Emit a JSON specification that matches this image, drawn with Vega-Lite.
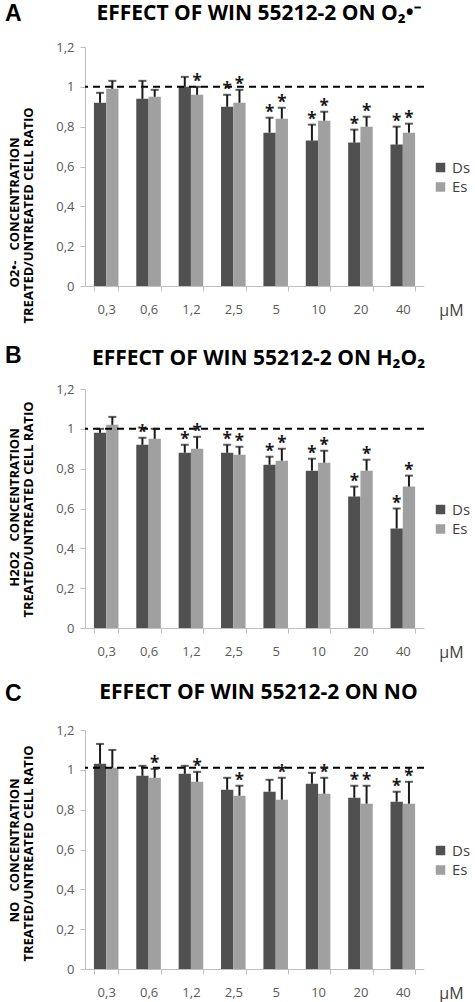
{
  "$schema": "https://vega.github.io/schema/vega-lite/v6.json",
  "background": "white",
  "padding": {"left": 4, "top": 3, "right": 0, "bottom": 3},
  "spacing": 22,
  "config": {
    "view": {"stroke": null},
    "axis": {"grid": false, "labelFont": "Open Sans", "labelFontSize": 13, "labelColor": "#595959", "domainColor": "#bfbfbf", "tickColor": "#bfbfbf", "tickSize": 5, "labelOverlap": false, "titleFont": "Open Sans", "titleFontSize": 13, "titleFontWeight": "bold", "titleColor": "#000000", "titleLimit": 400},
    "title": {"font": "Open Sans", "fontWeight": "bold", "color": "#000000"},
    "legend": {"labelFont": "Open Sans", "labelFontSize": 15, "labelColor": "#404040", "symbolType": "square", "symbolSize": 90, "symbolStrokeWidth": 0, "rowPadding": 3.5}
  },
  "resolve": {"legend": {"color": "independent"}},
  "datasets": {
    "bars": [
      {"panel": "A", "conc": "0,3", "series": "Ds", "value": 0.92, "upper": 0.97, "sig": ""},
      {"panel": "A", "conc": "0,3", "series": "Es", "value": 0.99, "upper": 1.03, "sig": ""},
      {"panel": "A", "conc": "0,6", "series": "Ds", "value": 0.94, "upper": 1.03, "sig": ""},
      {"panel": "A", "conc": "0,6", "series": "Es", "value": 0.95, "upper": 0.985, "sig": ""},
      {"panel": "A", "conc": "1,2", "series": "Ds", "value": 1.0, "upper": 1.05, "sig": ""},
      {"panel": "A", "conc": "1,2", "series": "Es", "value": 0.96, "upper": 1.0, "sig": "*"},
      {"panel": "A", "conc": "2,5", "series": "Ds", "value": 0.9, "upper": 0.96, "sig": "*"},
      {"panel": "A", "conc": "2,5", "series": "Es", "value": 0.92, "upper": 0.985, "sig": "*"},
      {"panel": "A", "conc": "5", "series": "Ds", "value": 0.77, "upper": 0.845, "sig": "*"},
      {"panel": "A", "conc": "5", "series": "Es", "value": 0.84, "upper": 0.895, "sig": "*"},
      {"panel": "A", "conc": "10", "series": "Ds", "value": 0.73, "upper": 0.81, "sig": "*"},
      {"panel": "A", "conc": "10", "series": "Es", "value": 0.83, "upper": 0.875, "sig": "*"},
      {"panel": "A", "conc": "20", "series": "Ds", "value": 0.72, "upper": 0.785, "sig": "*"},
      {"panel": "A", "conc": "20", "series": "Es", "value": 0.8, "upper": 0.85, "sig": "*"},
      {"panel": "A", "conc": "40", "series": "Ds", "value": 0.71, "upper": 0.8, "sig": "*"},
      {"panel": "A", "conc": "40", "series": "Es", "value": 0.77, "upper": 0.815, "sig": "*"},
      {"panel": "B", "conc": "0,3", "series": "Ds", "value": 0.98, "upper": 1.0, "sig": ""},
      {"panel": "B", "conc": "0,3", "series": "Es", "value": 1.02, "upper": 1.06, "sig": ""},
      {"panel": "B", "conc": "0,6", "series": "Ds", "value": 0.92, "upper": 0.955, "sig": "*"},
      {"panel": "B", "conc": "0,6", "series": "Es", "value": 0.95, "upper": 1.0, "sig": ""},
      {"panel": "B", "conc": "1,2", "series": "Ds", "value": 0.88, "upper": 0.92, "sig": "*"},
      {"panel": "B", "conc": "1,2", "series": "Es", "value": 0.9, "upper": 0.96, "sig": "*"},
      {"panel": "B", "conc": "2,5", "series": "Ds", "value": 0.88, "upper": 0.92, "sig": "*"},
      {"panel": "B", "conc": "2,5", "series": "Es", "value": 0.87, "upper": 0.91, "sig": "*"},
      {"panel": "B", "conc": "5", "series": "Ds", "value": 0.82, "upper": 0.86, "sig": "*"},
      {"panel": "B", "conc": "5", "series": "Es", "value": 0.84, "upper": 0.9, "sig": "*"},
      {"panel": "B", "conc": "10", "series": "Ds", "value": 0.79, "upper": 0.85, "sig": "*"},
      {"panel": "B", "conc": "10", "series": "Es", "value": 0.83, "upper": 0.89, "sig": "*"},
      {"panel": "B", "conc": "20", "series": "Ds", "value": 0.66, "upper": 0.71, "sig": "*"},
      {"panel": "B", "conc": "20", "series": "Es", "value": 0.79, "upper": 0.845, "sig": "*"},
      {"panel": "B", "conc": "40", "series": "Ds", "value": 0.5, "upper": 0.6, "sig": "*"},
      {"panel": "B", "conc": "40", "series": "Es", "value": 0.71, "upper": 0.765, "sig": "*"},
      {"panel": "C", "conc": "0,3", "series": "Ds", "value": 1.03, "upper": 1.13, "sig": ""},
      {"panel": "C", "conc": "0,3", "series": "Es", "value": 1.01, "upper": 1.1, "sig": ""},
      {"panel": "C", "conc": "0,6", "series": "Ds", "value": 0.97, "upper": 1.02, "sig": ""},
      {"panel": "C", "conc": "0,6", "series": "Es", "value": 0.96, "upper": 1.005, "sig": "*"},
      {"panel": "C", "conc": "1,2", "series": "Ds", "value": 0.98, "upper": 1.02, "sig": ""},
      {"panel": "C", "conc": "1,2", "series": "Es", "value": 0.94, "upper": 0.99, "sig": "*"},
      {"panel": "C", "conc": "2,5", "series": "Ds", "value": 0.9, "upper": 0.96, "sig": ""},
      {"panel": "C", "conc": "2,5", "series": "Es", "value": 0.87, "upper": 0.92, "sig": "*"},
      {"panel": "C", "conc": "5", "series": "Ds", "value": 0.89, "upper": 0.95, "sig": ""},
      {"panel": "C", "conc": "5", "series": "Es", "value": 0.85, "upper": 0.96, "sig": "*"},
      {"panel": "C", "conc": "10", "series": "Ds", "value": 0.93, "upper": 0.985, "sig": ""},
      {"panel": "C", "conc": "10", "series": "Es", "value": 0.88, "upper": 0.96, "sig": "*"},
      {"panel": "C", "conc": "20", "series": "Ds", "value": 0.86, "upper": 0.92, "sig": "*"},
      {"panel": "C", "conc": "20", "series": "Es", "value": 0.83, "upper": 0.92, "sig": "*"},
      {"panel": "C", "conc": "40", "series": "Ds", "value": 0.84, "upper": 0.89, "sig": "*"},
      {"panel": "C", "conc": "40", "series": "Es", "value": 0.83, "upper": 0.94, "sig": "*"}
    ]
  },
  "vconcat": [
    {
      "title": {"text": "A", "anchor": "start", "frame": "bounds", "font": "Liberation Sans", "fontSize": 23, "fontWeight": "bold", "offset": -23, "dx": -3},
      "vconcat": [
        {
          "width": 339, "height": 239,
          "title": {"text": "EFFECT OF WIN 55212-2 ON O₂•⁻", "fontSize": 21, "offset": 17, "frame": "group", "dx": 4},
          "data": {"name": "bars"},
          "transform": [{"filter": "datum.panel === 'A'"}],
          "resolve": {"axis": {"y": "independent"}},
          "encoding": {
            "x": {"field": "conc", "type": "nominal", "sort": ["0,3", "0,6", "1,2", "2,5", "5", "10", "20", "40"], "scale": {"paddingInner": 0.42, "paddingOuter": 0.21},
              "axis": {"labelAngle": 0, "tickBand": "extent", "labelPadding": 12, "title": "µM", "titleFontWeight": "normal", "titleFontSize": 16, "titleColor": "#404040", "titleX": 366, "titleY": 24, "titleBaseline": "middle", "titleAlign": "center", "titleAnchor": null}},
            "xOffset": {"field": "series", "type": "nominal", "sort": ["Ds", "Es"], "scale": {"paddingInner": 0, "paddingOuter": 0}}
          },
          "layer": [
            {
              "mark": {"type": "bar"},
              "encoding": {
                "y": {"field": "value", "type": "quantitative", "scale": {"domain": [0, 1.2], "nice": false},
                  "axis": {"values": [0, 0.2, 0.4, 0.6, 0.8, 1, 1.2], "labelExpr": "replace(format(datum.value, '.1~f'), '.', ',')", "labelPadding": 6,
                    "title": "TREATED/UNTREATED CELL RATIO", "titleX": -63, "titleY": 276, "titleAlign": "left", "titleBaseline": "top", "titleAngle": -90}},
                "color": {"field": "series", "type": "nominal", "scale": {"domain": ["Ds", "Es"], "range": ["#505050", "#a0a0a0"]},
                  "legend": {"title": null, "orient": "none", "legendX": 348, "legendY": 113}}
              }
            },
            {
              "data": {"values": [{"ref": 1}]},
              "mark": {"type": "rule", "color": "#000000", "strokeWidth": 2, "strokeDash": [7, 5]},
              "encoding": {"y": {"field": "ref", "type": "quantitative",
                "axis": {"orient": "left", "labels": false, "ticks": false, "domain": false, "title": "O2•- \u00a0\u00a0CONCENTRATION", "titleX": -77, "titleY": 240, "titleAlign": "left", "titleBaseline": "top", "titleAngle": -90}},
                "x": null, "xOffset": null}
            },
            {
              "mark": {"type": "rule", "color": "#1a1a1a", "strokeWidth": 2},
              "encoding": {"y": {"field": "value", "type": "quantitative", "axis": null}, "y2": {"field": "upper"}}
            },
            {
              "mark": {"type": "tick", "orient": "horizontal", "color": "#1a1a1a", "size": 8, "thickness": 2},
              "encoding": {"y": {"field": "upper", "type": "quantitative", "axis": null}}
            },
            {
              "transform": [{"filter": "datum.sig !== ''"}],
              "mark": {"type": "text", "font": "Open Sans", "fontSize": 17, "fontWeight": "bold", "color": "#1a1a1a", "baseline": "alphabetic", "dy": 0},
              "encoding": {"y": {"field": "upper", "type": "quantitative", "axis": null}, "text": {"field": "sig"}}
            }
          ]
        }
      ]
    },
    {
      "title": {"text": "B", "anchor": "start", "frame": "bounds", "font": "Liberation Sans", "fontSize": 23, "fontWeight": "bold", "offset": -20, "dx": -3},
      "vconcat": [
        {
          "width": 339, "height": 239,
          "title": {"text": "EFFECT OF WIN 55212-2 ON H₂O₂", "fontSize": 21, "offset": 14, "frame": "group", "dx": 4},
          "data": {"name": "bars"},
          "transform": [{"filter": "datum.panel === 'B'"}],
          "resolve": {"axis": {"y": "independent"}},
          "encoding": {
            "x": {"field": "conc", "type": "nominal", "sort": ["0,3", "0,6", "1,2", "2,5", "5", "10", "20", "40"], "scale": {"paddingInner": 0.42, "paddingOuter": 0.21},
              "axis": {"labelAngle": 0, "tickBand": "extent", "labelPadding": 12, "title": "µM", "titleFontWeight": "normal", "titleFontSize": 16, "titleColor": "#404040", "titleX": 366, "titleY": 24, "titleBaseline": "middle", "titleAlign": "center", "titleAnchor": null}},
            "xOffset": {"field": "series", "type": "nominal", "sort": ["Ds", "Es"], "scale": {"paddingInner": 0, "paddingOuter": 0}}
          },
          "layer": [
            {
              "mark": {"type": "bar"},
              "encoding": {
                "y": {"field": "value", "type": "quantitative", "scale": {"domain": [0, 1.2], "nice": false},
                  "axis": {"values": [0, 0.2, 0.4, 0.6, 0.8, 1, 1.2], "labelExpr": "replace(format(datum.value, '.1~f'), '.', ',')", "labelPadding": 6,
                    "title": "TREATED/UNTREATED CELL RATIO", "titleX": -63, "titleY": 120, "titleAlign": "center", "titleBaseline": "top", "titleAngle": -90}},
                "color": {"field": "series", "type": "nominal", "scale": {"domain": ["Ds", "Es"], "range": ["#505050", "#a0a0a0"]},
                  "legend": {"title": null, "orient": "none", "legendX": 348, "legendY": 113}}
              }
            },
            {
              "data": {"values": [{"ref": 1}]},
              "mark": {"type": "rule", "color": "#000000", "strokeWidth": 2, "strokeDash": [7, 5]},
              "encoding": {"y": {"field": "ref", "type": "quantitative",
                "axis": {"orient": "left", "labels": false, "ticks": false, "domain": false, "title": "H2O2 \u00a0\u00a0CONCENTRATION", "titleX": -77, "titleY": 118, "titleAlign": "center", "titleBaseline": "top", "titleAngle": -90}},
                "x": null, "xOffset": null}
            },
            {
              "mark": {"type": "rule", "color": "#1a1a1a", "strokeWidth": 2},
              "encoding": {"y": {"field": "value", "type": "quantitative", "axis": null}, "y2": {"field": "upper"}}
            },
            {
              "mark": {"type": "tick", "orient": "horizontal", "color": "#1a1a1a", "size": 8, "thickness": 2},
              "encoding": {"y": {"field": "upper", "type": "quantitative", "axis": null}}
            },
            {
              "transform": [{"filter": "datum.sig !== ''"}],
              "mark": {"type": "text", "font": "Open Sans", "fontSize": 17, "fontWeight": "bold", "color": "#1a1a1a", "baseline": "alphabetic", "dy": 0},
              "encoding": {"y": {"field": "upper", "type": "quantitative", "axis": null}, "text": {"field": "sig"}}
            }
          ]
        }
      ]
    },
    {
      "title": {"text": "C", "anchor": "start", "frame": "bounds", "font": "Liberation Sans", "fontSize": 23, "fontWeight": "bold", "offset": -24, "dx": -3},
      "vconcat": [
        {
          "width": 339, "height": 239,
          "title": {"text": "EFFECT OF WIN 55212-2 ON NO", "fontSize": 21, "offset": 21, "frame": "group", "dx": 4},
          "data": {"name": "bars"},
          "transform": [{"filter": "datum.panel === 'C'"}],
          "resolve": {"axis": {"y": "independent"}},
          "encoding": {
            "x": {"field": "conc", "type": "nominal", "sort": ["0,3", "0,6", "1,2", "2,5", "5", "10", "20", "40"], "scale": {"paddingInner": 0.42, "paddingOuter": 0.21},
              "axis": {"labelAngle": 0, "tickBand": "extent", "labelPadding": 12, "title": "µM", "titleFontWeight": "normal", "titleFontSize": 16, "titleColor": "#404040", "titleX": 366, "titleY": 24, "titleBaseline": "middle", "titleAlign": "center", "titleAnchor": null}},
            "xOffset": {"field": "series", "type": "nominal", "sort": ["Ds", "Es"], "scale": {"paddingInner": 0, "paddingOuter": 0}}
          },
          "layer": [
            {
              "mark": {"type": "bar"},
              "encoding": {
                "y": {"field": "value", "type": "quantitative", "scale": {"domain": [0, 1.2], "nice": false},
                  "axis": {"values": [0, 0.2, 0.4, 0.6, 0.8, 1, 1.2], "labelExpr": "replace(format(datum.value, '.1~f'), '.', ',')", "labelPadding": 6,
                    "title": "TREATED/UNTREATED CELL RATIO", "titleX": -63, "titleY": 123, "titleAlign": "center", "titleBaseline": "top", "titleAngle": -90}},
                "color": {"field": "series", "type": "nominal", "scale": {"domain": ["Ds", "Es"], "range": ["#505050", "#a0a0a0"]},
                  "legend": {"title": null, "orient": "none", "legendX": 348, "legendY": 113}}
              }
            },
            {
              "data": {"values": [{"ref": 1.01}]},
              "mark": {"type": "rule", "color": "#000000", "strokeWidth": 2, "strokeDash": [7, 5]},
              "encoding": {"y": {"field": "ref", "type": "quantitative",
                "axis": {"orient": "left", "labels": false, "ticks": false, "domain": false, "title": "NO \u00a0\u00a0CONCENTRATION", "titleX": -77, "titleY": 120, "titleAlign": "center", "titleBaseline": "top", "titleAngle": -90}},
                "x": null, "xOffset": null}
            },
            {
              "mark": {"type": "rule", "color": "#1a1a1a", "strokeWidth": 2},
              "encoding": {"y": {"field": "value", "type": "quantitative", "axis": null}, "y2": {"field": "upper"}}
            },
            {
              "mark": {"type": "tick", "orient": "horizontal", "color": "#1a1a1a", "size": 8, "thickness": 2},
              "encoding": {"y": {"field": "upper", "type": "quantitative", "axis": null}}
            },
            {
              "transform": [{"filter": "datum.sig !== ''"}],
              "mark": {"type": "text", "font": "Open Sans", "fontSize": 17, "fontWeight": "bold", "color": "#1a1a1a", "baseline": "alphabetic", "dy": 0},
              "encoding": {"y": {"field": "upper", "type": "quantitative", "axis": null}, "text": {"field": "sig"}}
            }
          ]
        }
      ]
    }
  ]
}
